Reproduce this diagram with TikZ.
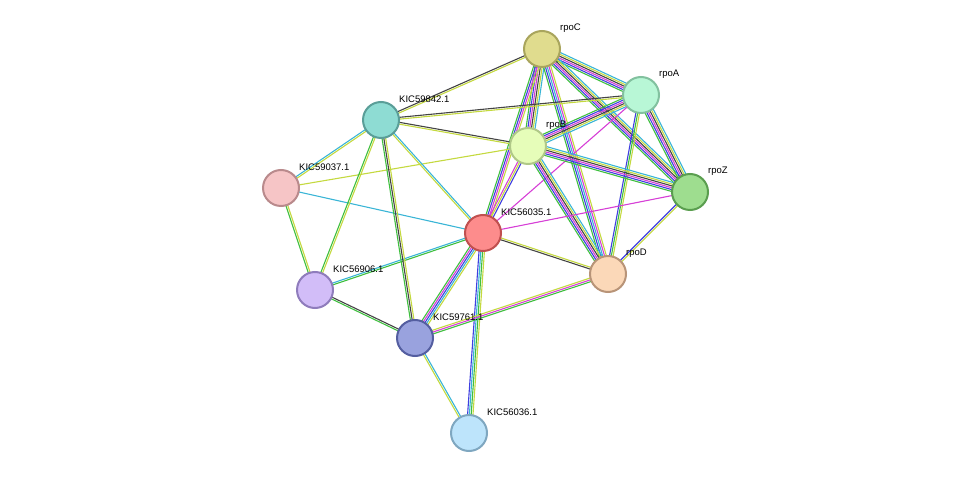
\documentclass[tikz,border=0pt]{standalone}
\usepackage{fontspec}
\setmainfont{Liberation Sans}
\usetikzlibrary{calc}
\definecolor{cG}{HTML}{3FBF3F}
\definecolor{cY}{HTML}{C4D93F}
\definecolor{cK}{HTML}{444444}
\definecolor{cC}{HTML}{3AB5D6}
\definecolor{cM}{HTML}{D63FD6}
\definecolor{cB}{HTML}{3F3FE0}
\newcommand\medge[3]{%
  \foreach \c [count=\i] in {#3} {\xdef\nn{\i}}%
  \foreach \c [count=\i] in {#3} {%
    \pgfmathsetmacro\k{(\i-(\nn+1)/2)*1.8}%
    \draw[line width=1.1pt,\c] ($(#1)!\k pt!90:(#2)$) -- ($(#2)!\k pt!-90:(#1)$);}}
\tikzset{prot/.style={circle,minimum size=36pt,inner sep=0pt,line width=2pt},
 lab/.style={anchor=west,font=\fontsize{9.5pt}{11pt}\selectfont,inner sep=0pt}}
\begin{document}
\begin{tikzpicture}[x=1pt,y=1pt]
\useasboundingbox (0,0) rectangle (976,479);
\coordinate (rpoC) at (542,430);
\coordinate (rpoA) at (641,384);
\coordinate (K842) at (381,359);
\coordinate (rpoB) at (528,333);
\coordinate (K037) at (281,291);
\coordinate (rpoZ) at (690,287);
\coordinate (K035) at (483,246);
\coordinate (rpoD) at (608,205);
\coordinate (K906) at (315,189);
\coordinate (K761) at (415,141);
\coordinate (K036) at (469,46);
\medge{rpoC}{rpoA}{cG,cB,cM,cK,cY,cC}
\medge{rpoC}{rpoB}{cG,cB,cM,cK,cY,cC}
\medge{rpoC}{rpoZ}{cG,cB,cM,cK,cY,cC}
\medge{rpoC}{rpoD}{cG,cB,cC,cM,cY}
\medge{rpoC}{K035}{cG,cB,cM,cY}
\medge{rpoC}{K842}{cK,cY}
\medge{rpoA}{rpoB}{cG,cB,cM,cK,cY,cC}
\medge{rpoA}{rpoZ}{cG,cB,cM,cK,cY,cC}
\medge{rpoA}{rpoD}{cB,cG,cY}
\medge{rpoA}{K035}{cM}
\medge{rpoA}{K842}{cK,cY}
\medge{rpoB}{rpoZ}{cG,cB,cM,cK,cY,cC}
\medge{rpoB}{rpoD}{cG,cB,cM,cK,cY,cC}
\medge{rpoB}{K035}{cM,cY,cB}
\medge{rpoB}{K842}{cK,cY}
\medge{rpoB}{K037}{cY}
\medge{rpoZ}{rpoD}{cB,cY}
\medge{rpoZ}{K035}{cM}
\medge{K035}{rpoD}{cK,cY}
\medge{K035}{K842}{cC,cY}
\medge{K035}{K037}{cC}
\medge{K035}{K906}{cC,cG}
\medge{K035}{K761}{cG,cM,cB,cC,cY}
\medge{K035}{K036}{cB,cC,cG,cY}
\medge{K842}{K037}{cC,cY}
\medge{K842}{K906}{cG,cY}
\medge{K842}{K761}{cG,cK,cY}
\medge{K037}{K906}{cG,cY}
\medge{K906}{K761}{cG,cK}
\medge{K761}{rpoD}{cG,cM,cY}
\medge{K761}{K036}{cY,cC}
\foreach \n/\f/\s/\t in {rpoC/E0DC8E/A9A55D/rpoC, rpoA/B8F7D6/82C19F/rpoA, K842/8EDCD3/5A9E98/KIC59842.1,
  rpoB/E6FDB9/B0C888/rpoB, K037/F6C5C6/B98A8C/KIC59037.1, rpoZ/9EDD8F/5A9E4F/rpoZ,
  K035/FD8C8C/C0504F/KIC56035.1, rpoD/FBD8B8/B89478/rpoD, K906/D2BDF8/8F7CBC/KIC56906.1,
  K761/99A2DE/545EA0/KIC59761.1, K036/BDE4FB/7FA7C0/KIC56036.1} {
  \definecolor{tf}{HTML}{\f}\definecolor{ts}{HTML}{\s}
  \node[prot,fill=tf,draw=ts] (n\n) at (\n) {};
  \node[lab] (l\n) at ($(\n)+(18,21)$) {\t};
}
\end{tikzpicture}
\end{document}
